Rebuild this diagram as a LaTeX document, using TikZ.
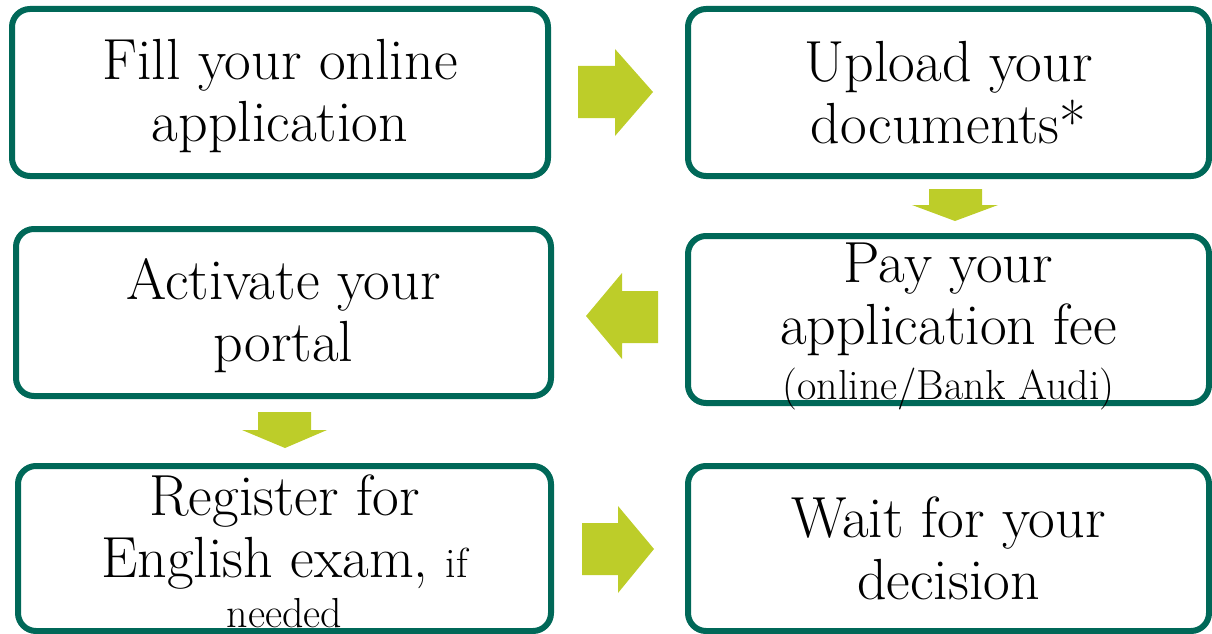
\documentclass[tikz,border=0pt]{standalone}
\definecolor{cteal}{RGB}{0,104,88}
\definecolor{clime}{RGB}{189,205,41}

\begin{document}
\begin{tikzpicture}[x=1pt,y=-1pt,
    stagetext/.style={inner sep=0pt, align=center, font=\fontsize{58}{62}\selectfont},
    stage/.style={stagetext, rectangle, draw=cteal, line width=6pt, rounded corners=18pt, minimum width=521pt, minimum height=167pt},
    blockarrow/.style={fill=clime}]
    \useasboundingbox (0,0) rectangle (1212,634);

    \node[stage,minimum width=536pt] (Fill) at (280,92.5) {\rule{0pt}{48pt}Fill your online\\application};
    \node[stage] (Upload) at (948.5,92.5) {Upload your\\documents*};
    \node[stage,minimum width=535pt] (Activate) at (283.5,312.5) {\rule{0pt}{48pt}Activate your\\portal};
    \node[stage] (Pay) at (948.5,319.5) {};
    \node[stagetext] (PayText) at (Pay.center) {\rule{0pt}{54pt}Pay your\\application fee\\[-7pt]{\fontsize{42}{46}\selectfont (online/Bank Audi)}};
    \node[stage,minimum width=533pt,minimum height=165pt] (Register) at (284.5,548.5) {\rule{0pt}{46pt}Register for\\English exam, {\fontsize{42}{46}\selectfont if}\\[-12pt]{\fontsize{42}{46}\selectfont needed}};
    \node[stage,minimum height=165pt] (Wait) at (948.5,548.5) {Wait for your\\decision};

    % block arrows between the steps
    \fill[blockarrow] (578,66) -- (615,66) -- (615,49) -- (653,92) -- (615,136) -- (615,118) -- (578,118) -- cycle;
    \fill[blockarrow] (929,189) -- (982,189) -- (982,205) -- (998,205) -- (955,221) -- (912,205) -- (929,205) -- cycle;
    \fill[blockarrow] (658,291) -- (622,291) -- (622,273) -- (586,316) -- (622,359) -- (622,343) -- (658,343) -- cycle;
    \fill[blockarrow] (258,412) -- (311,412) -- (311,430) -- (327,430) -- (285,448) -- (242,430) -- (258,430) -- cycle;
    \fill[blockarrow] (582,523) -- (618,523) -- (618,506) -- (654,549) -- (618,593) -- (618,575) -- (582,575) -- cycle;
  \end{tikzpicture}
\end{document}
